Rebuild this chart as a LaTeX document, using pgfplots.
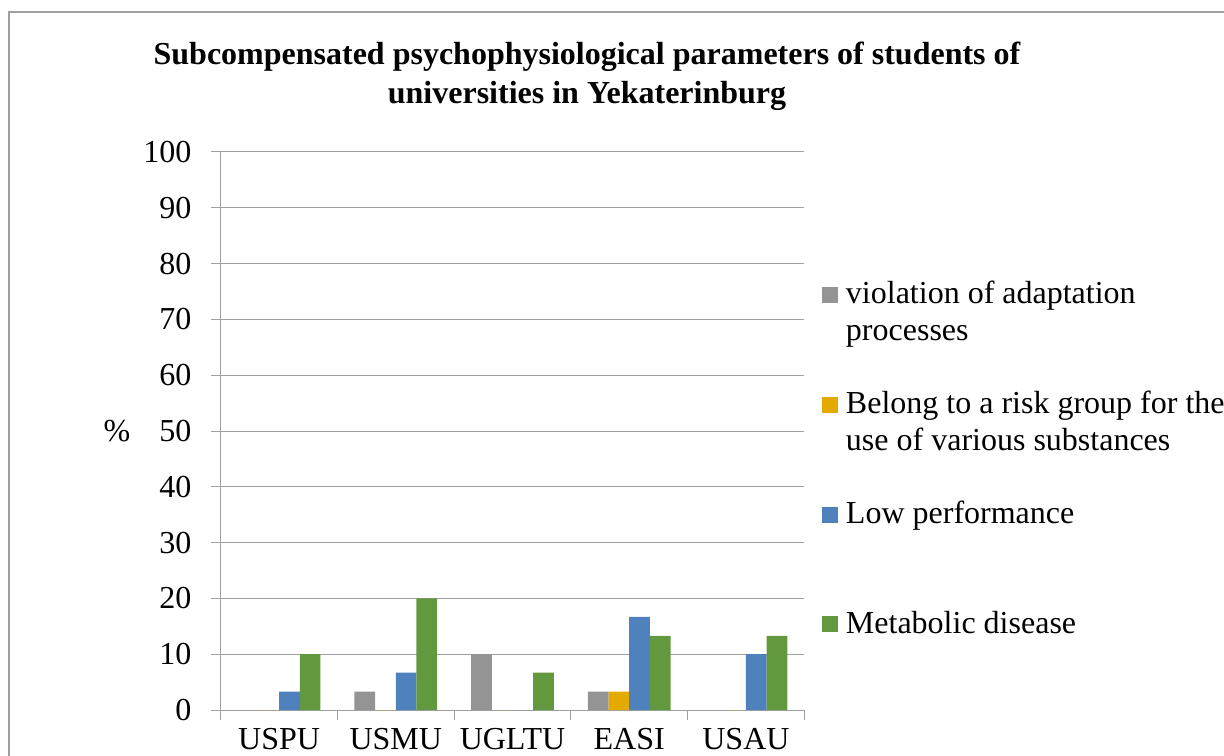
\documentclass[border=0pt]{standalone}
\usepackage{pgfplots}
\usepackage{pgfplotstable}
\pgfplotsset{compat=1.18}
\usepackage{fontspec}
\setmainfont{Liberation Serif}
\definecolor{cgray}{RGB}{148,148,148}
\definecolor{corange}{RGB}{228,170,0}
\definecolor{cblue}{RGB}{79,129,189}
\definecolor{cgreen}{RGB}{98,152,62}
\definecolor{cline}{RGB}{160,160,160}
\pgfplotstableread{
x g o b gr
0 0 0 3.3 10
1 3.3 0 6.7 20
2 10 0 0 6.7
3 3.3 3.3 16.7 13.3
4 0 0 10 13.3
}\data
\newcommand\lf{\fontsize{16}{18.5}\selectfont}
\begin{document}
\begin{tikzpicture}[x=0.5pt,y=0.5pt]
\path[use as bounding box] (0,0) rectangle (1224,755);
\draw[cline, line width=0.75pt] (9,743) rectangle (1260,-30);
\node[font=\fontsize{16}{20}\selectfont\bfseries, anchor=base, inner sep=0pt] at (587,690.7) {Subcompensated psychophysiological parameters of students of};
\node[font=\fontsize{16}{20}\selectfont\bfseries, anchor=base, inner sep=0pt] at (587,651) {universities in Yekaterinburg};
\begin{axis}[at={(110.35pt,22.5pt)}, anchor=south west, scale only axis,
  width=291.8pt, height=279pt,
  ybar=0pt, bar width=10.35pt,
  xmin=-0.5, xmax=4.5, ymin=0, ymax=100,
  xtick={-0.5,0.5,...,4.5}, xticklabel=\empty,
  extra x ticks={0,1,2,3,4},
  extra x tick labels={USPU,USMU,UGLTU,EASI,USAU},
  extra x tick style={major tick length=0pt, tick style={draw=none}},
  ytick={0,10,...,100},
  ymajorgrids, major grid style={cline, line width=0.5pt},
  axis x line*=bottom, axis y line*=left,
  axis line style={cline, line width=0.5pt},
  tick style={cline, line width=0.5pt},
  tick align=outside, major tick length=5pt,
  /pgf/number format/assume math mode=true,
  ticklabel style={font=\fontsize{16}{19}\selectfont},
  xticklabel style={anchor=base, yshift=-19.5pt},
  yticklabel style={anchor=east, inner sep=0pt, xshift=-9.5pt},
  ylabel={\%},
  every axis y label/.style={at={(axis description cs:-0.1777,0.5)}, anchor=center, font=\fontsize{16}{19}\selectfont},
  legend style={at={(axis description cs:1.0303,0.7688)}, anchor=north west,
    draw=none, fill=none, inner sep=0pt, outer sep=0pt, row sep=23.75pt, column sep=4pt,
    font=\lf},
  legend cell align=left,
  sq/.style={legend image code/.code={\fill[##1] (0pt,19pt) rectangle (8pt,27pt);}},
]
\addplot[fill=cgray, draw=none, sq] table[x=x, y=g] {\data};
\addlegendentry[align=left, anchor=base west, inner sep=0pt]{violation of adaptation\\processes\strut}
\addplot[fill=corange, draw=none, sq] table[x=x, y=o] {\data};
\addlegendentry[align=left, anchor=base west, inner sep=0pt]{Belong to a risk group for the\\use of various substances\strut}
\addplot[fill=cblue, draw=none, sq] table[x=x, y=b] {\data};
\addlegendentry[align=left, anchor=base west, inner sep=0pt]{Low performance\\\strut}
\addplot[fill=cgreen, draw=none, sq] table[x=x, y=gr] {\data};
\addlegendentry[align=left, anchor=base west, inner sep=0pt]{Metabolic disease\\\strut}
\end{axis}
\end{tikzpicture}
\end{document}
